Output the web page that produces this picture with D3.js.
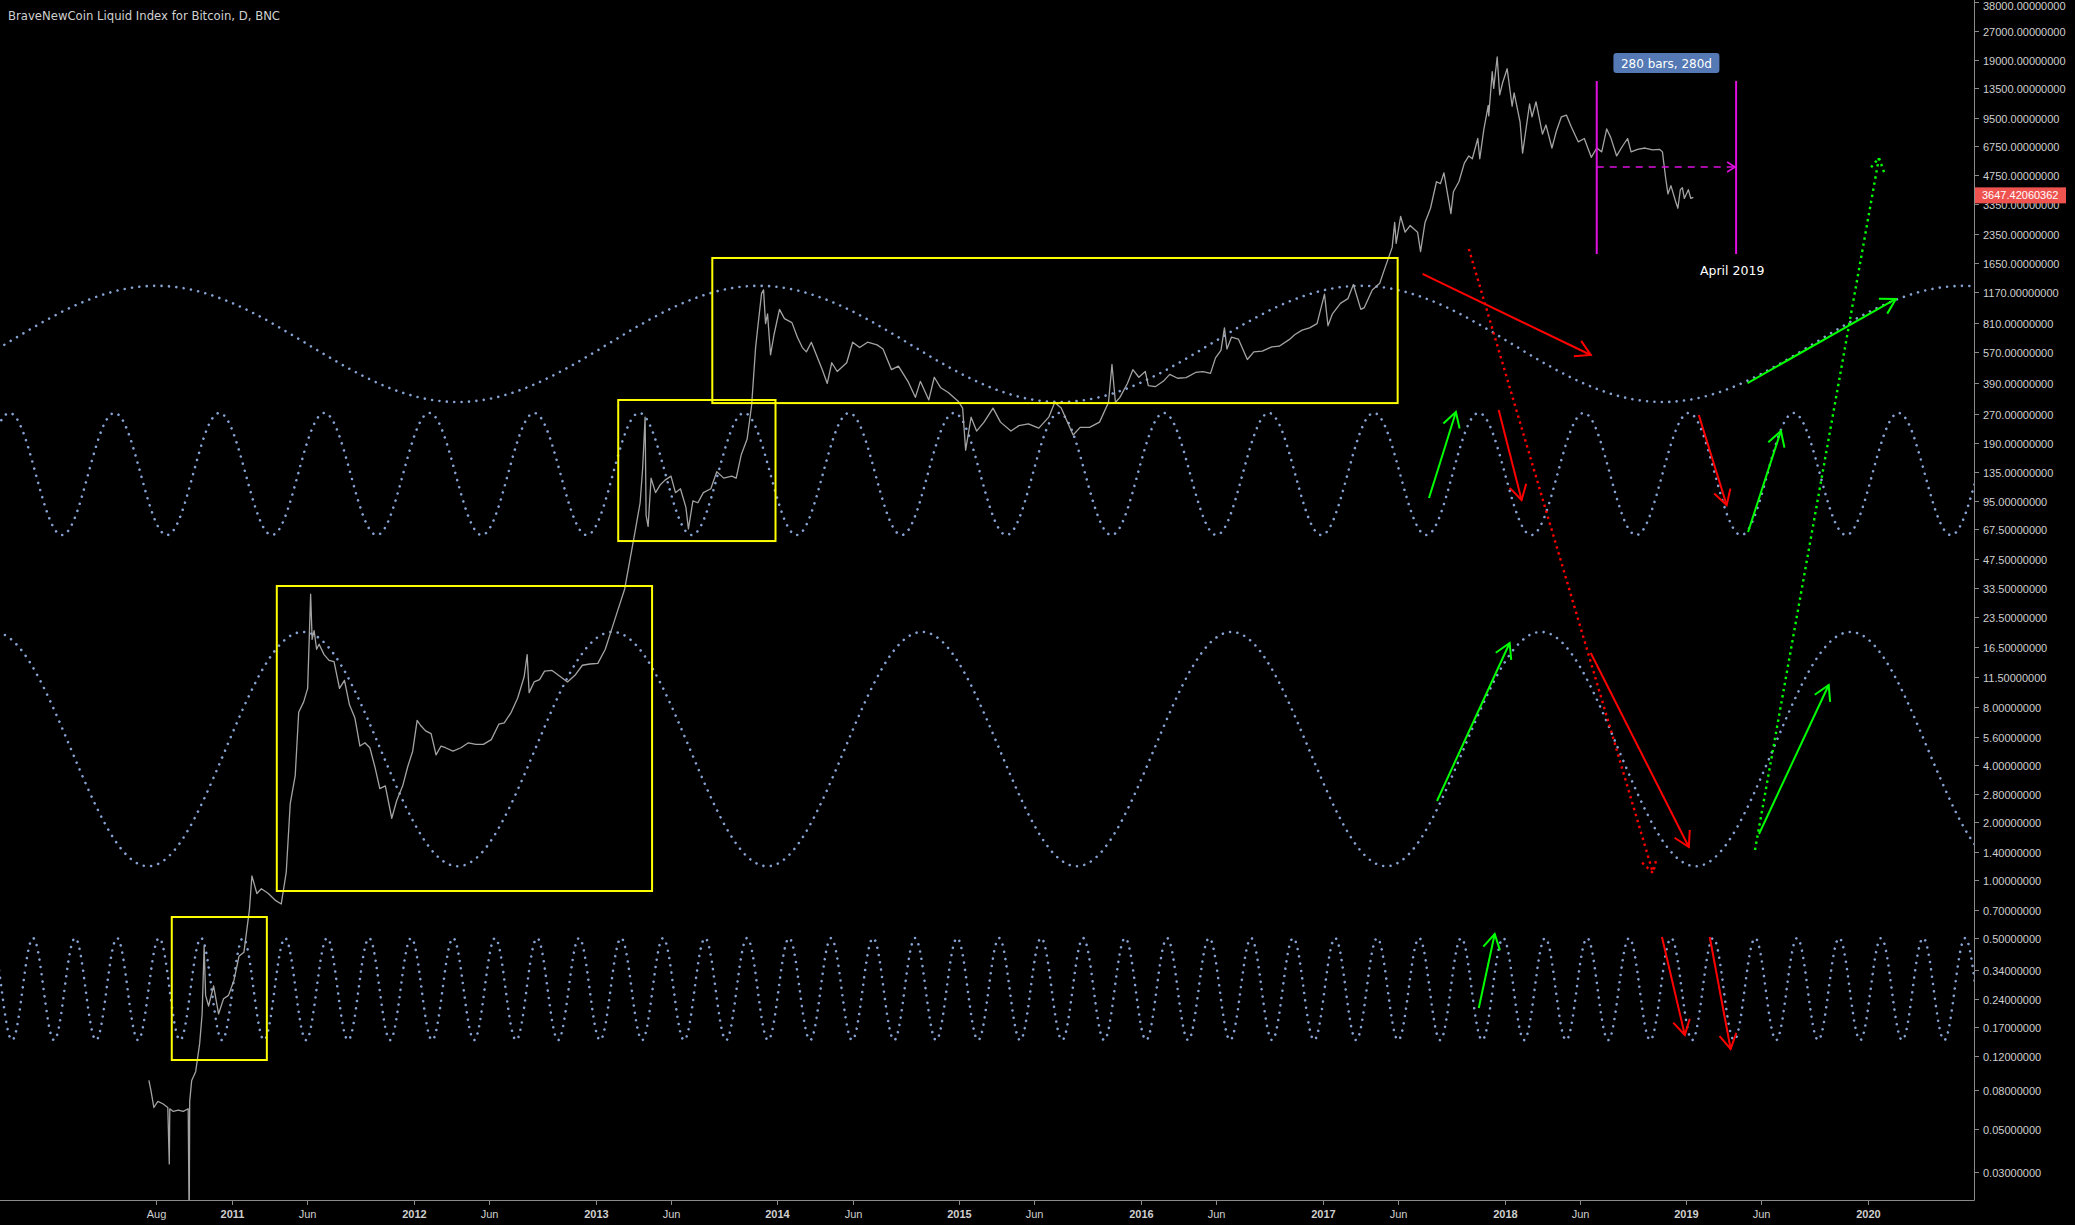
<!DOCTYPE html>
<html><head><meta charset="utf-8">
<script src="https://cdn.jsdelivr.net/npm/d3@7"></script>
<style>html,body{margin:0;background:#000;overflow:hidden}svg{display:block}</style>
</head><body>
<svg id="c" width="2075" height="1225"></svg>
<script>
// ---------------- DATA ----------------
const chartTitle = "BraveNewCoin Liquid Index for Bitcoin, D, BNC";
const priceDates = ["2010-07-18","2010-07-22","2010-07-28","2010-08-05","2010-08-15","2010-08-25","2010-08-28","2010-08-29","2010-09-05","2010-09-15","2010-09-25","2010-10-05","2010-10-07","2010-10-08","2010-10-12","2010-10-20","2010-10-28","2010-11-02","2010-11-06","2010-11-09","2010-11-15","2010-11-25","2010-12-05","2010-12-15","2010-12-25","2011-01-05","2011-01-15","2011-01-25","2011-02-05","2011-02-10","2011-02-20","2011-03-01","2011-03-15","2011-03-30","2011-04-10","2011-04-20","2011-04-28","2011-05-08","2011-05-15","2011-05-25","2011-06-02","2011-06-08","2011-06-11","2011-06-15","2011-06-20","2011-06-25","2011-07-05","2011-07-15","2011-07-25","2011-08-05","2011-08-15","2011-08-25","2011-09-05","2011-09-15","2011-09-25","2011-10-05","2011-10-15","2011-10-25","2011-11-05","2011-11-18","2011-11-28","2011-12-10","2011-12-20","2011-12-30","2012-01-08","2012-01-15","2012-01-25","2012-02-05","2012-02-15","2012-02-25","2012-03-05","2012-03-20","2012-04-05","2012-04-20","2012-05-05","2012-05-20","2012-06-05","2012-06-20","2012-07-01","2012-07-15","2012-07-28","2012-08-10","2012-08-16","2012-08-20","2012-08-30","2012-09-10","2012-09-20","2012-10-05","2012-10-20","2012-11-05","2012-11-20","2012-12-05","2012-12-20","2013-01-05","2013-01-20","2013-02-01","2013-02-15","2013-02-28","2013-03-10","2013-03-20","2013-03-31","2013-04-05","2013-04-10","2013-04-12","2013-04-16","2013-04-22","2013-05-01","2013-05-10","2013-05-20","2013-06-01","2013-06-10","2013-06-20","2013-07-01","2013-07-06","2013-07-15","2013-07-25","2013-08-05","2013-08-20","2013-09-01","2013-09-15","2013-10-01","2013-10-10","2013-10-20","2013-11-01","2013-11-10","2013-11-18","2013-11-22","2013-11-30","2013-12-04","2013-12-08","2013-12-12","2013-12-18","2013-12-25","2014-01-05","2014-01-15","2014-01-30","2014-02-10","2014-02-20","2014-02-28","2014-03-10","2014-03-25","2014-04-01","2014-04-11","2014-04-20","2014-05-01","2014-05-20","2014-06-01","2014-06-15","2014-07-01","2014-07-20","2014-08-01","2014-08-18","2014-09-01","2014-09-20","2014-10-05","2014-10-15","2014-11-01","2014-11-12","2014-11-25","2014-12-10","2014-12-30","2015-01-08","2015-01-14","2015-01-25","2015-02-05","2015-02-20","2015-03-10","2015-03-25","2015-04-15","2015-05-01","2015-05-20","2015-06-10","2015-06-30","2015-07-12","2015-07-25","2015-08-18","2015-09-01","2015-09-20","2015-10-10","2015-10-28","2015-11-04","2015-11-11","2015-11-20","2015-12-05","2015-12-16","2015-12-28","2016-01-10","2016-01-16","2016-01-30","2016-02-15","2016-02-28","2016-03-15","2016-04-01","2016-04-20","2016-05-05","2016-05-20","2016-05-30","2016-06-10","2016-06-17","2016-06-22","2016-07-01","2016-07-15","2016-08-02","2016-08-15","2016-09-01","2016-09-20","2016-10-05","2016-10-25","2016-11-05","2016-11-20","2016-12-05","2016-12-20","2017-01-04","2017-01-11","2017-01-20","2017-02-05","2017-02-20","2017-03-03","2017-03-18","2017-03-25","2017-04-10","2017-04-25","2017-05-05","2017-05-20","2017-05-25","2017-05-28","2017-06-06","2017-06-15","2017-06-25","2017-07-10","2017-07-16","2017-07-25","2017-08-05","2017-08-17","2017-08-25","2017-09-01","2017-09-15","2017-09-20","2017-10-01","2017-10-12","2017-10-21","2017-10-28","2017-11-08","2017-11-12","2017-11-20","2017-11-29","2017-11-30","2017-12-07","2017-12-10","2017-12-17","2017-12-22","2017-12-28","2018-01-06","2018-01-16","2018-01-20","2018-02-01","2018-02-06","2018-02-20","2018-02-25","2018-03-05","2018-03-18","2018-03-25","2018-04-06","2018-04-15","2018-04-25","2018-05-05","2018-05-15","2018-05-29","2018-06-10","2018-06-24","2018-07-05","2018-07-15","2018-07-25","2018-08-02","2018-08-14","2018-08-25","2018-09-05","2018-09-12","2018-09-25","2018-10-10","2018-10-25","2018-11-08","2018-11-14","2018-11-20","2018-11-25","2018-12-01","2018-12-10","2018-12-15","2018-12-20","2018-12-24","2018-12-28","2019-01-05","2019-01-10","2019-01-15"];
const priceValues = [0.09,0.08,0.065,0.07,0.068,0.065,0.033,0.064,0.062,0.063,0.062,0.064,0.015,0.07,0.09,0.10,0.14,0.2,0.45,0.25,0.22,0.28,0.2,0.24,0.25,0.3,0.4,0.42,0.7,1.05,0.85,0.9,0.85,0.78,0.75,1.1,2.5,3.5,7.5,8.5,10,31,18,20,16,17,15,14,13.8,10,11,8.2,7,5,5.2,4.9,3.9,3.0,3.1,2.1,2.6,3.1,3.9,4.7,6.8,6.4,6.0,5.8,4.5,5.0,4.9,4.7,4.9,5.2,5.1,5.1,5.4,6.5,6.6,7.5,8.9,11.5,15,9.5,10.8,11.1,12.3,12.4,11.6,10.8,11.7,13.2,13.4,13.5,16,20,26,33,46,64,93,140,260,80,70,125,105,115,122,128,105,110,88,68,95,93,105,110,135,125,128,125,165,200,300,600,750,1150,1200,800,900,550,700,950,850,810,680,600,570,640,510,460,390,500,450,500,640,600,640,620,590,460,480,400,330,400,320,420,370,350,315,290,175,260,220,245,290,245,220,235,240,228,260,310,290,210,230,230,245,310,490,310,330,390,460,420,450,380,375,400,435,415,418,445,450,440,530,580,760,590,680,665,520,570,575,605,610,660,700,740,760,800,1140,780,900,1020,1080,1280,950,970,1200,1300,1550,2000,2700,2100,2900,2400,2600,2400,1900,2700,3200,4400,4300,4900,3000,3900,4400,5500,6000,5800,7400,5800,8200,11000,9700,16500,13500,19700,12500,14500,17100,10900,12800,9000,6200,11200,9600,11500,7800,8700,6600,8100,9600,9800,8500,7100,7400,5900,6600,6300,8300,7500,6000,6700,7400,6300,6500,6600,6450,6500,6300,4700,3800,4200,3500,3200,4000,4100,3600,4000,3600,3650];
const lastPriceLabel = "3647.42060362";
const lastPriceValue = 3647.42;

const yTickValues = [38000,27000,19000,13500,9500,6750,4750,3350,2350,1650,1170,810,570,390,270,190,135,95,67.5,47.5,33.5,23.5,16.5,11.5,8,5.6,4,2.8,2,1.4,1,0.7,0.5,0.34,0.24,0.17,0.12,0.08,0.05,0.03];
const xTickDates = ["2010-08-01","2011-01-01","2011-06-01","2012-01-01","2012-06-01","2013-01-01","2013-06-01","2014-01-01","2014-06-01","2015-01-01","2015-06-01","2016-01-01","2016-06-01","2017-01-01","2017-06-01","2018-01-01","2018-06-01","2019-01-01","2019-06-01","2020-01-01"];
const xTickLabels = ["Aug","2011","Jun","2012","Jun","2013","Jun","2014","Jun","2015","Jun","2016","Jun","2017","Jun","2018","Jun","2019","Jun","2020"];

// sine-line drawings: anchor peak date, period (days), peak value, trough value
const wavePeakDates = ["2017-03-19","2017-11-10","2018-03-15","2016-11-02"];
const wavePeriodDays = [1210.5, 210.86, 621.8, 84.39];
const waveHighValues = [1260, 273.5, 19.7, 0.498];
const waveLowValues = [312, 63.1, 1.18, 0.146];

// rectangles
const boxStartDates = ["2010-09-02","2011-04-01","2013-02-15","2013-08-23"];
const boxEndDates   = ["2011-03-12","2013-04-24","2013-12-28","2017-05-31"];
const boxHighValues = [0.641, 34.2, 319.7, 1761];
const boxLowValues  = [0.115, 0.876, 58.7, 308];

// arrows (kind: up = green, down = red)
const arrowKinds       = ["down","up","up","down","down","up","up","down","up","up","down","down","down","up"];
const arrowDotted      = [false,false,false,false,false,false,false,false,false,false,false,false,true,true];
const arrowStartDates  = ["2017-07-20","2019-05-04","2017-08-02","2017-12-20","2019-01-26","2019-05-05","2017-08-18","2018-06-23","2019-05-27","2017-11-10","2018-11-13","2019-02-17","2017-10-21","2019-05-19"];
const arrowStartValues = [1453,392,98.5,283.5,266.9,65.4,2.584,15.29,1.738,0.2148,0.504,0.504,1962,1.434];
const arrowEndDates    = ["2018-06-23","2020-02-26","2017-09-25","2018-02-04","2019-03-23","2019-07-10","2018-01-11","2019-01-06","2019-10-14","2017-12-12","2018-12-29","2019-03-31","2018-10-26","2020-01-23"];
const arrowEndValues   = [549,1076,276.7,96.1,90.5,220.3,17.25,1.486,10.41,0.5229,0.1553,0.1313,1.088,5855];

// date range measurement
const rangeStartDate = "2018-07-05";
const rangeEndDate = "2019-04-11";
const rangeTopValue = 14770;
const rangeBottomValue = 1847;
const rangeMidValue = 5254;
const rangeLabel = "280 bars, 280d";
const rangeNote = "April 2019";

// ---------------- DRAW ----------------
const W = 2075, H = 1225, plotR = 1974, plotB = 1200;
const parse = d3.utcParse("%Y-%m-%d");
const x = d3.scaleUtc().domain([parse("2011-01-01"), parse("2020-01-01")]).range([232, 1868]);
const y = d3.scaleLog().domain([1, 1170]).range([880, 292]);

const svg = d3.select("#c");
svg.append("rect").attr("width", W).attr("height", H).attr("fill", "#000");
svg.append("defs").append("clipPath").attr("id", "clip")
  .append("rect").attr("x", 0).attr("y", 0).attr("width", plotR).attr("height", plotB);
const g = svg.append("g").attr("clip-path", "url(#clip)");

// sine waves
const DAY = 86400000;
wavePeakDates.forEach((pd, i) => {
  const peak = parse(pd), per = wavePeriodDays[i] * DAY;
  const yHi = y(waveHighValues[i]), yLo = y(waveLowValues[i]);
  const pts = d3.range(-2, plotR + 3, 0.5).map(px => {
    const t = x.invert(px).getTime();
    const ph = (t - peak.getTime()) / per;
    return [px, yHi + (yLo - yHi) * (1 - Math.cos(2 * Math.PI * ph)) / 2];
  });
  g.append("path").attr("d", d3.line()(pts)).attr("fill", "none")
    .attr("stroke", "#86a2d2").attr("stroke-width", 2.6)
    .attr("stroke-linecap", "round").attr("stroke-dasharray", "0.01 7.4");
});

// price
const priceData = priceDates.map((d, i) => [parse(d), priceValues[i]]);
g.append("path").datum(priceData)
  .attr("d", d3.line().x(d => x(d[0])).y(d => y(d[1])))
  .attr("fill", "none").attr("stroke", "#a3a3a3").attr("stroke-width", 1.3)
  .attr("stroke-linejoin", "round");

// boxes
boxStartDates.forEach((d, i) => {
  const x0 = x(parse(d)), x1 = x(parse(boxEndDates[i]));
  const y0 = y(boxHighValues[i]), y1 = y(boxLowValues[i]);
  g.append("rect").attr("x", x0).attr("y", y0).attr("width", x1 - x0).attr("height", y1 - y0)
    .attr("fill", "none").attr("stroke", "#ffff00").attr("stroke-width", 2);
});

// arrows
function arrowHead(x1, y1, x2, y2, len) {
  const a = Math.atan2(y2 - y1, x2 - x1) + Math.PI;
  const d = 30 * Math.PI / 180;
  return [[x2 + len * Math.cos(a - d), y2 + len * Math.sin(a - d)], [x2, y2],
          [x2 + len * Math.cos(a + d), y2 + len * Math.sin(a + d)]];
}
arrowKinds.forEach((k, i) => {
  const col = k === "up" ? "#00ff00" : "#ff0000";
  const x1 = x(parse(arrowStartDates[i])), y1 = y(arrowStartValues[i]);
  const x2 = x(parse(arrowEndDates[i])), y2 = y(arrowEndValues[i]);
  const dotted = arrowDotted[i];
  const s = g.append("g").attr("fill", "none").attr("stroke", col)
    .attr("stroke-width", dotted ? 2.4 : 2);
  if (dotted) s.attr("stroke-dasharray", "2.4 3.8");
  s.append("line").attr("x1", x1).attr("y1", y1).attr("x2", x2).attr("y2", y2);
  s.append("path").attr("d", d3.line()(arrowHead(x1, y1, x2, y2, dotted ? 15 : 17)));
});

// date range tool
const rx0 = x(parse(rangeStartDate)), rx1 = x(parse(rangeEndDate));
const ryT = y(rangeTopValue), ryB = y(rangeBottomValue), ryM = y(rangeMidValue);
const rg = g.append("g").attr("stroke", "#e010e0").attr("fill", "none");
rg.append("line").attr("x1", rx0).attr("x2", rx0).attr("y1", ryT).attr("y2", ryB).attr("stroke-width", 2);
rg.append("line").attr("x1", rx1).attr("x2", rx1).attr("y1", ryT).attr("y2", ryB).attr("stroke-width", 2);
rg.append("line").attr("x1", rx0).attr("x2", rx1 - 2).attr("y1", ryM).attr("y2", ryM)
  .attr("stroke-width", 1.6).attr("stroke-dasharray", "7 6");
rg.append("path").attr("stroke-width", 1.6)
  .attr("d", `M${rx1 - 9},${ryM - 5}L${rx1 - 1},${ryM}L${rx1 - 9},${ryM + 5}`);
const lblX = (rx0 + rx1) / 2;
svg.append("rect").attr("x", lblX - 53).attr("y", 53).attr("width", 106).attr("height", 20)
  .attr("rx", 3).attr("fill", "#5479b4");
svg.append("text").attr("x", lblX).attr("y", 67.5).attr("text-anchor", "middle")
  .attr("fill", "#ffffff").attr("font-family", "DejaVu Sans, sans-serif").attr("font-size", 12)
  .text(rangeLabel);
svg.append("text").attr("x", 1700).attr("y", 275).attr("fill", "#ffffff")
  .attr("font-family", "DejaVu Sans, sans-serif").attr("font-size", 12.5).text(rangeNote);

// axes
const axisCol = "#8a8a8a", txtCol = "#cfcfcf";
svg.append("line").attr("x1", plotR + 0.5).attr("x2", plotR + 0.5).attr("y1", 0).attr("y2", plotB + 0.5)
  .attr("stroke", axisCol);
svg.append("line").attr("x1", 0).attr("x2", plotR + 0.5).attr("y1", plotB + 0.5).attr("y2", plotB + 0.5)
  .attr("stroke", axisCol);
const ya = svg.append("g");
yTickValues.forEach(v => {
  const yy = Math.round(y(v)) + 0.5;
  ya.append("line").attr("x1", plotR).attr("x2", plotR + 5).attr("y1", yy).attr("y2", yy).attr("stroke", axisCol);
  ya.append("text").attr("x", plotR + 9).attr("y", Math.max(yy + 4, 10)).attr("fill", txtCol)
    .attr("font-family", "Liberation Sans, Arial, sans-serif").attr("font-size", 11)
    .text(v.toFixed(8));
});
const xa = svg.append("g");
xTickDates.forEach((d, i) => {
  const xx = Math.round(x(parse(d))) + 0.5;
  const isYear = /^\d{4}$/.test(xTickLabels[i]);
  xa.append("line").attr("x1", xx).attr("x2", xx).attr("y1", plotB).attr("y2", plotB + 5).attr("stroke", axisCol);
  xa.append("text").attr("x", xx).attr("y", plotB + 18).attr("text-anchor", "middle").attr("fill", txtCol)
    .attr("font-family", "Liberation Sans, Arial, sans-serif").attr("font-size", 11)
    .attr("font-weight", isYear ? "bold" : "normal").text(xTickLabels[i]);
});

// last price label
const lpY = y(lastPriceValue);
svg.append("rect").attr("x", plotR + 1).attr("y", lpY - 10).attr("width", 91).attr("height", 16).attr("fill", "#ef5350");
svg.append("text").attr("x", plotR + 8).attr("y", lpY + 2).attr("fill", "#ffffff")
  .attr("font-family", "Liberation Sans, Arial, sans-serif").attr("font-size", 11).text(lastPriceLabel);

// title
svg.append("text").attr("x", 8).attr("y", 20).attr("fill", "#d0d0d0")
  .attr("font-family", "DejaVu Sans, sans-serif").attr("font-size", 12)
  .attr("textLength", 272).attr("lengthAdjust", "spacingAndGlyphs").text(chartTitle);
</script>
</body></html>
